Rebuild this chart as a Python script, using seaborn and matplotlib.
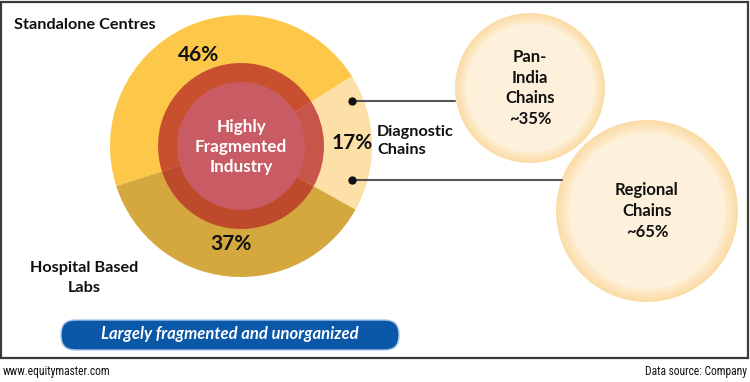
import numpy as np
import matplotlib
matplotlib.use("Agg")
import matplotlib.pyplot as plt
from matplotlib.patches import Circle, Rectangle, FancyBboxPatch
import seaborn as sns

# Segment data (drawn counterclockwise starting from Diagnostic Chains)
segments = ["Diagnostic Chains", "Standalone Centres", "Hospital Based Labs"]
shares = [17, 46, 37]
seg_colors = ["#FDDFA8", "#FDC84A", "#D4A83E"]
inner_colors = ["#C8554A", "#C8502E", "#BE4A2C"]

# Split of the diagnostic chains
chain_labels = ["Pan-\nIndia\nChains", "Regional\nChains"]
chain_shares = [35, 65]

sns.set_theme(style="white")
plt.rcParams["font.family"] = ["Lato", "DejaVu Sans"]

W, H = 750, 382
fig = plt.figure(figsize=(W / 100, H / 100), dpi=100)
ax = fig.add_axes([0, 0, 1, 1])


def Y(y):
    # convert picture y (from top) to axes y
    return H - y


# main donut
cx, cy, R = 241, Y(146), 131
wedges, _ = ax.pie(shares, colors=seg_colors, startangle=-29, counterclock=True,
                   radius=R, center=(cx, cy), frame=True,
                   wedgeprops=dict(linewidth=0))
# inner red ring, same angles
ax.pie(shares, colors=inner_colors, startangle=-29, counterclock=True,
       radius=83, center=(cx, cy), frame=True, wedgeprops=dict(linewidth=0))
ax.add_patch(Circle((cx, cy), 64, color="#C85B64", lw=0, zorder=3))

ax.set_xlim(0, W)
ax.set_ylim(0, H)
ax.set_aspect("equal")
ax.axis("off")

# frame
ax.add_patch(Rectangle((1, Y(358)), 747, 356, fill=False, ec="#3a3a3a", lw=1.6))

ax.text(cx, cy - 1, "Highly\nFragmented\nIndustry", ha="center", va="center",
        color="white", fontsize=12.3, fontweight="bold", linespacing=1.3, zorder=4)

# percentage labels from wedge angles
label_r = [111, 100, 98]
for w, s, r in zip(wedges, shares, label_r):
    mid = np.deg2rad((w.theta1 + w.theta2) / 2)
    ax.text(cx + r * np.cos(mid), cy + r * np.sin(mid), f"{s}%", ha="center",
            va="center", fontsize=15, fontweight="bold", color="#111111", zorder=4)

# segment names
ax.text(14, Y(25), segments[1], ha="left", va="center", fontsize=11.7,
        fontweight="bold", color="#111111")
ax.text(84, Y(278), "Hospital Based\nLabs", ha="center", va="center", fontsize=11.7,
        fontweight="bold", color="#111111", linespacing=1.5)
ax.text(377, Y(141), "Diagnostic\nChains", ha="left", va="center", fontsize=11.7,
        fontweight="bold", color="#111111", linespacing=1.3)

# bubbles for chains
bubbles = [(530, 88, 75), (647, 211, 91)]
rim = sns.blend_palette(["#FBDCA6", "#FDEBCB"], 12)
for (bx, by, br), lab, sh in zip(bubbles, chain_labels, chain_shares):
    for frac, col in zip(np.linspace(1.0, 0.88, 12), rim):
        ax.add_patch(Circle((bx, Y(by)), br * frac, color=col, lw=0, zorder=2))
    ax.add_patch(Circle((bx, Y(by)), br * 0.86, color="#FEF1DC", lw=0, zorder=2))
    ax.text(bx, Y(by), f"{lab}\n~{sh}%", ha="center", va="center", fontsize=12,
            fontweight="bold", color="#111111", linespacing=1.35, zorder=4)

# connectors
for dy, x_end in [(101, 455), (180, 562)]:
    ax.plot([352, x_end], [Y(dy), Y(dy)], color="#555555", lw=1.5, zorder=3)
    ax.plot(352, Y(dy), "o", color="#111111", ms=5, zorder=4)

# banner
ax.add_patch(FancyBboxPatch((61, Y(350)), 338, 30,
                            boxstyle="round,pad=0,rounding_size=14",
                            fc="#0B57A8", ec="#A9C8EA", lw=1, zorder=3))
ax.text(230, Y(334), "Largely fragmented and unorganized", ha="center", va="center",
        color="white", fontsize=12, fontweight="bold", style="italic", zorder=4)

# footer
ax.text(3, Y(371), "www.equitymaster.com", ha="left", va="center", fontsize=8.3,
        family=["Roboto Condensed", "Roboto", "DejaVu Sans"], color="#111111")
ax.text(747, Y(371), "Data source: Company", ha="right", va="center", fontsize=8.3,
        family=["Roboto Condensed", "Roboto", "DejaVu Sans"], color="#111111")

fig.savefig("out.png", dpi=100, facecolor="white")
